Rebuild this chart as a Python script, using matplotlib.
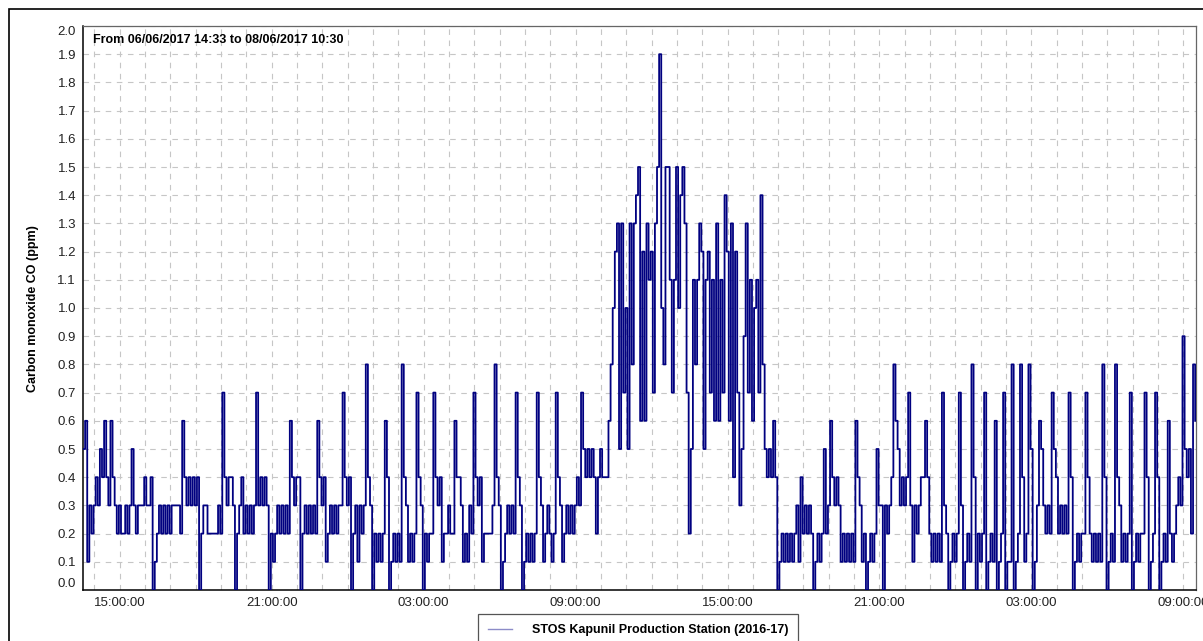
import matplotlib
matplotlib.use("Agg")
import matplotlib.pyplot as plt
import matplotlib.dates as mdates
from matplotlib.lines import Line2D
from matplotlib.patches import Rectangle
import numpy as np
import pandas as pd

plt.rcParams['font.family'] = ['Liberation Sans', 'DejaVu Sans']

title_text = "From 06/06/2017 14:33 to 08/06/2017 10:30"
y_label = "Carbon monoxide CO (ppm)"
series_name = "STOS Kapunil Production Station (2016-17)"
start_time = "2017-06-06 13:33"   # axis is drawn one hour behind the title
end_time = "2017-06-08 09:30"
y_ticks = [round(0.1 * k, 1) for k in range(21)]

# CO readings, one every 5 minutes, in tenths of ppm
co_jun6_afternoon = [5, 6, 1, 3, 2, 3, 4, 3, 5, 4, 6, 4, 3, 6, 4, 3, 2, 3, 2, 2,
                     3, 2, 3, 5, 3, 2, 3, 3, 3, 4, 3, 3, 4, 0, 1, 2, 3, 2, 3, 2,
                     3, 2, 3, 3, 3, 3, 2, 6, 4, 3, 4, 3, 4, 3, 4, 0, 2, 3, 3, 2,
                     2, 2, 2, 2, 3, 2, 7, 4, 3, 4, 4, 3, 0, 2, 3, 4, 2, 3, 2, 3,
                     2, 3, 7, 3, 4, 3, 4, 3, 0, 2]
co_jun6_evening = [1, 2, 3, 2, 3, 2, 3, 2, 6, 4, 3, 4, 4, 0, 2, 3, 2, 3, 2, 3,
                   2, 6, 4, 3, 4, 1, 2, 3, 2, 3, 2, 3, 3, 7, 4, 3, 4, 0, 2, 3,
                   1, 3, 2, 3, 8, 4, 3, 0, 2, 1, 2, 1, 2, 6, 4, 0, 1, 2, 1, 2,
                   1, 8, 4, 3, 1, 2, 1, 2, 7, 4, 3, 0, 2, 1, 2, 2, 7, 4, 3, 4,
                   1, 2, 2, 3, 2, 2, 6, 4, 4]
co_jun7_night = [3, 1, 2, 1, 3, 2, 7, 4, 3, 4, 1, 2, 2, 2, 2, 3, 8, 4, 3, 0,
                 1, 2, 3, 2, 3, 2, 7, 4, 3, 0, 1, 2, 1, 2, 1, 2, 7, 4, 3, 1,
                 2, 3, 2, 1, 2, 7, 4, 3, 1, 2, 3, 2, 3, 2, 3, 4, 3, 7, 5, 4,
                 5, 4, 5, 4, 2, 4, 5, 4, 4, 4]
co_jun7_day = [6, 8, 10, 12, 13, 5, 13, 7, 10, 5, 13, 8, 13, 14, 15, 6, 12, 6, 13, 11,
               12, 7, 13, 15, 19, 10, 8, 15, 15, 11, 7, 11, 15, 10, 14, 15, 13, 7, 2, 5,
               11, 8, 11, 13, 12, 5, 11, 12, 7, 11, 6, 13, 6, 11, 7, 14, 12, 6, 13, 4,
               12, 7, 3, 5, 9, 13, 7, 11, 6, 10, 11, 7, 14, 8, 5, 4, 5, 4, 6, 4,
               0]
co_jun7_evening = [1, 2, 1, 2, 1, 2, 1, 2, 3, 1, 4, 2, 3, 2, 3, 2, 0, 1, 2, 1,
                   2, 5, 2, 3, 6, 4, 3, 4, 3, 1, 2, 1, 2, 1, 2, 1, 6, 4, 3, 1,
                   2, 0, 1, 2, 1, 2, 5, 3, 3, 0, 3, 2, 3, 4, 8, 6, 5, 3, 4, 3,
                   4, 7, 3, 1, 3, 2, 3, 4, 4, 6, 4, 2, 1, 2, 1, 2, 1, 7, 3, 2,
                   0, 1, 2, 1, 2, 7, 3, 0, 1, 2, 1, 8, 4, 0, 2, 1, 2, 7]
co_jun8_night = [0, 1, 2, 1, 6, 0, 1, 2, 7, 0, 1, 1, 8, 0, 1, 2, 8, 4, 1, 2,
                 8, 5, 0, 1, 3, 6, 5, 3, 2, 3, 2, 7, 5, 4, 2, 3, 2, 3, 2, 7,
                 4, 0, 1, 2, 1, 2, 2, 7, 4, 2, 1, 2, 1, 2, 1, 8, 4, 0, 1, 2,
                 1, 8, 4, 3, 1, 2, 1, 2, 7, 0, 1, 2, 1, 2, 2, 7, 4, 0, 1, 2,
                 7, 4, 0, 1, 2, 1, 6, 2, 1, 2, 3, 4, 3, 9, 5, 4, 5, 2, 8, 6]

tenths = (co_jun6_afternoon + co_jun6_evening + co_jun7_night
          + co_jun7_day + co_jun7_evening + co_jun8_night)
co_ppm = np.array(tenths) / 10.0
times = pd.date_range(start_time, periods=len(co_ppm), freq="5min").to_pydatetime()

W, H = 1203, 641
fig = plt.figure(figsize=(W / 100, H / 100), dpi=100)
ax = fig.add_axes([83 / W, 1 - 590 / H, (1196 - 83) / W, (590 - 26) / H])

grid_style = dict(color='#c6c6c6', linestyle=(0, (5, 5)), linewidth=0.8)
ax.plot(times, co_ppm, color='#000080', linewidth=1.3, drawstyle='steps-post', zorder=3)

ax.set_xlim(pd.Timestamp(start_time).to_pydatetime(), pd.Timestamp(end_time).to_pydatetime())
ax.set_ylim(0, 2.0)
ax.set_yticks(y_ticks)
ax.set_yticklabels(["%.1f" % v for v in y_ticks])
ax.xaxis.set_major_locator(mdates.HourLocator(byhour=[3, 9, 15, 21]))
ax.xaxis.set_minor_locator(mdates.HourLocator())
ax.xaxis.set_major_formatter(mdates.DateFormatter('%H:%M:%S'))
ax.grid(axis='x', which='both', **grid_style)
ax.grid(axis='y', which='major', **grid_style)
ax.set_axisbelow(True)
ax.tick_params(which='both', length=0, labelsize=9.5, labelcolor='#222222')
ax.tick_params(axis='y', pad=5)
ax.tick_params(axis='x', pad=5)

# end labels sit inside the axis range, as in the original
yt = ax.yaxis.get_major_ticks()
yt[0].label1.set_verticalalignment('bottom')
yt[-1].label1.set_verticalalignment('top')

for side in ['left', 'bottom']:
    ax.spines[side].set_color('black')
    ax.spines[side].set_linewidth(1.1)
for side in ['top', 'right']:
    ax.spines[side].set_color('#666666')
    ax.spines[side].set_linewidth(0.9)

fig.text(93 / W, 1 - 40 / H, title_text, fontsize=9, fontweight='bold',
         ha='left', va='center')
fig.text(33 / W, 1 - 309 / H, y_label, fontsize=9, fontweight='bold',
         rotation=90, ha='center', va='center')

# outer frame (only its top-left corner is inside the picture)
fig.patches.append(Rectangle((9 / W, -0.5), 2.0, 1.5 - 9 / H, transform=fig.transFigure,
                             fill=False, edgecolor='black', linewidth=1.2))

handle = Line2D([], [], color='#8c8cc8', linewidth=1.0)
leg = fig.legend([handle], [series_name], loc='upper left',
                 bbox_to_anchor=(478 / W, 1 - 614 / H), bbox_transform=fig.transFigure,
                 borderaxespad=0, borderpad=0.8, handlelength=1.9, handletextpad=1.6,
                 fancybox=False, framealpha=1, edgecolor='#555555',
                 prop={'weight': 'bold', 'size': 9})
leg.get_frame().set_linewidth(0.9)

fig.savefig('out.png', dpi=100)
